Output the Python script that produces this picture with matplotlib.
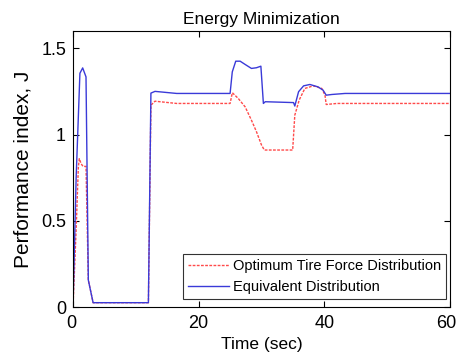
import matplotlib
matplotlib.use("Agg")
import matplotlib.pyplot as plt
import matplotlib.transforms as mtransforms

plt.rcParams['font.family'] = ['Liberation Sans', 'DejaVu Sans']

# Equivalent Distribution (blue)
t_eq = [0, 0.5, 1.1, 1.54, 2.07, 2.44, 3.2, 12.0, 12.4, 13.05, 16.5, 25.0, 25.35, 25.9, 26.6,
        27.4, 28.4, 29.2, 29.9, 30.3, 30.6, 35.1, 35.3, 35.9, 36.7, 37.7, 39.0, 39.8, 40.3,
        41.2, 43.3, 60]
y_eq = [0, 0.75, 1.355, 1.386, 1.334, 0.156, 0.025, 0.025, 1.24, 1.25, 1.238, 1.238, 1.363,
        1.425, 1.425, 1.406, 1.383, 1.387, 1.396, 1.18, 1.19, 1.185, 1.165, 1.248, 1.282, 1.29,
        1.276, 1.257, 1.228, 1.232, 1.238, 1.238]

# Optimum Tire Force Distribution (red)
t_opt = [0, 0.5, 0.85, 1.0, 1.3, 1.6, 2.07, 2.44, 3.2, 12.0, 12.4, 13.05, 16.5, 25.0, 25.36,
         26.3, 27.4, 28.4, 29.2, 30.0, 30.45, 34.96, 35.3, 36.0, 36.9, 38.25, 39.6, 40.1, 40.3,
         42.0, 60]
y_opt = [0, 0.45, 0.81, 0.86, 0.83, 0.815, 0.815, 0.156, 0.025, 0.025, 1.17, 1.193, 1.18, 1.18,
         1.242, 1.209, 1.16, 1.083, 1.016, 0.939, 0.91, 0.91, 1.112, 1.2, 1.267, 1.282, 1.267,
         1.228, 1.174, 1.18, 1.18]

x_ticks = [0, 20, 40, 60]
y_ticks = [0, 0.5, 1, 1.5]
y_tick_labels = ['0', '0.5', '1', '1.5']

fig = plt.figure(figsize=(4.58, 3.55), dpi=100)
ax = fig.add_axes([73/458, 1 - 307/355, (450-73)/458, (307-31)/355])

ax.plot(t_opt, y_opt, color='#ff4a4a', linestyle=(0, (2, 1)), linewidth=1.0,
        label='Optimum Tire Force Distribution')
ax.plot(t_eq, y_eq, color='#3a3ad8', linewidth=1.0, label='Equivalent Distribution')

ax.set_xlim(0, 60)
ax.set_ylim(0, 1.6)
ax.set_xticks(x_ticks)
ax.set_yticks(y_ticks)
ax.set_yticklabels(y_tick_labels)
ax.tick_params(direction='in', top=True, right=True, labelsize=13, length=4)
ax.tick_params(axis='x', pad=6)
ax.tick_params(axis='y', pad=5)
ax.set_xlabel('Time (sec)', fontsize=12.5, labelpad=3)
ax.set_ylabel('Performance index, J', fontsize=15, labelpad=6)
ax.set_title('Energy Minimization', fontsize=12.5, pad=5)

# shift the last x tick label slightly left so it stays inside the figure
fig.canvas.draw()
lbls = ax.get_xticklabels()
off = mtransforms.ScaledTranslation(-4/100, 0, fig.dpi_scale_trans)
lbls[-1].set_transform(lbls[-1].get_transform() + off)
off0 = mtransforms.ScaledTranslation(-2/100, 0, fig.dpi_scale_trans)
lbls[0].set_transform(lbls[0].get_transform() + off0)

leg = ax.legend(loc='lower right', fontsize=10.5, frameon=True, fancybox=False,
                edgecolor='black', handlelength=2.8, borderpad=0.35, labelspacing=0.45,
                handletextpad=0.3, borderaxespad=0, bbox_to_anchor=(0.99, 0.03))
leg.get_frame().set_linewidth(0.8)

fig.savefig('out.png', dpi=100)
